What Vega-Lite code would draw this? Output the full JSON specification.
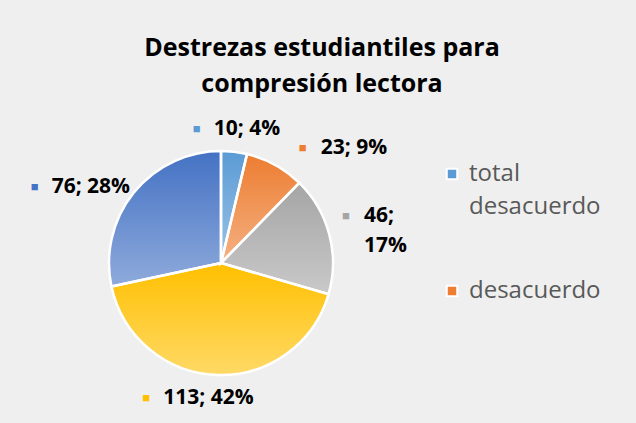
{
  "$schema": "https://vega.github.io/schema/vega-lite/v6.json",
  "width": 422,
  "height": 320,
  "autosize": {"type": "none"},
  "padding": {"left": 10, "top": 103, "right": 204, "bottom": 0},
  "background": "#efefef",
  "config": {
    "view": {"stroke": null},
    "style": {"guide-label": {"lineHeight": 33}}
  },
  "title": {
    "text": ["Destrezas estudiantiles para", "compresión lectora"],
    "font": "Open Sans",
    "fontSize": 25,
    "fontWeight": "bold",
    "color": "#000000",
    "anchor": "middle",
    "dx": 101,
    "offset": 6,
    "lineHeight": 36
  },
  "data": {
    "values": [
      {"categoria": "total desacuerdo", "valor": 10, "orden": 1, "etiqueta": "10; 4%"},
      {"categoria": "desacuerdo", "valor": 23, "orden": 2, "etiqueta": "23; 9%"},
      {"categoria": "neutral", "valor": 46, "orden": 3, "etiqueta": "46;\n17%"},
      {"categoria": "de acuerdo", "valor": 113, "orden": 4, "etiqueta": "113; 42%"},
      {"categoria": "total de acuerdo", "valor": 76, "orden": 5, "etiqueta": "76; 28%"}
    ]
  },
  "encoding": {
    "theta": {"field": "valor", "type": "quantitative", "stack": true},
    "order": {"field": "orden", "type": "quantitative", "sort": "ascending"}
  },
  "layer": [
    {
      "mark": {"type": "arc", "outerRadius": 112},
      "encoding": {
        "color": {
          "field": "categoria",
          "type": "nominal",
          "scale": {
            "domain": ["total desacuerdo", "desacuerdo", "neutral", "de acuerdo", "total de acuerdo"],
            "range": ["#5B9BD5", "#ED7D31", "#A5A5A5", "#FFC000", "#4472C4"]
          },
          "legend": {
            "orient": "none",
            "legendX": 430,
            "legendY": 59,
            "values": ["total desacuerdo", "desacuerdo"],
            "title": null,
            "labelFont": "Open Sans",
            "labelFontSize": 24,
            "labelColor": "#595959",
            "labelExpr": "datum.label == 'total desacuerdo' ? ['total', 'desacuerdo'] : datum.label",
            "labelOffset": 5,
            "rowPadding": 60,
            "symbolType": "square",
            "symbolSize": 110,
            "symbolStrokeColor": "white",
            "symbolStrokeWidth": 2
          }
        }
      }
    },
    {
      "mark": {
        "type": "arc",
        "outerRadius": 112,
        "stroke": "white",
        "strokeWidth": 2.5,
        "fill": {"gradient": "linear", "x1": 0, "y1": 0, "x2": 0, "y2": 1, "stops": [{"offset": 0, "color": "rgba(255,255,255,0)"}, {"offset": 1, "color": "rgba(255,255,255,0.4)"}]}
      },
      "encoding": {}
    },
    {
      "mark": {
        "type": "text",
        "align": "left",
        "baseline": "middle",
        "fontSize": 13,
        "lineHeight": 30,
        "text": {"expr": "indexof(datum.etiqueta, '\\n') >= 0 ? ['■', ' '] : '■'"},
        "radius": {"expr": "165*135/sqrt(pow(135*sin(scale('theta', 0.5*datum.valor_start + 0.5*datum.valor_end)),2) + pow(165*cos(scale('theta', 0.5*datum.valor_start + 0.5*datum.valor_end)),2))"},
        "dx": {"expr": "abs(sin(scale('theta', 0.5*datum.valor_start + 0.5*datum.valor_end))) < 0.35 ? (cos(scale('theta', 0.5*datum.valor_start + 0.5*datum.valor_end)) > 0 ? -44 : -74) : (sin(scale('theta', 0.5*datum.valor_start + 0.5*datum.valor_end)) > 0 ? 74*cos(scale('theta', 0.5*datum.valor_start + 0.5*datum.valor_end)) - 55 : -73)"},
        "dy": {"expr": "abs(sin(scale('theta', 0.5*datum.valor_start + 0.5*datum.valor_end))) < 0.35 ? 0 : (sin(scale('theta', 0.5*datum.valor_start + 0.5*datum.valor_end)) > 0 ? 22*cos(scale('theta', 0.5*datum.valor_start + 0.5*datum.valor_end)) - 11 : 19)"}
      },
      "encoding": {
        "color": {"field": "categoria", "type": "nominal", "legend": null}
      }
    },
    {
      "mark": {
        "type": "text",
        "align": "left",
        "baseline": "middle",
        "font": "Open Sans",
        "fontSize": 21,
        "fontWeight": "bold",
        "color": "#000000",
        "lineBreak": "\n",
        "lineHeight": 30,
        "radius": {"expr": "165*135/sqrt(pow(135*sin(scale('theta', 0.5*datum.valor_start + 0.5*datum.valor_end)),2) + pow(165*cos(scale('theta', 0.5*datum.valor_start + 0.5*datum.valor_end)),2))"},
        "dx": {"expr": "abs(sin(scale('theta', 0.5*datum.valor_start + 0.5*datum.valor_end))) < 0.35 ? (cos(scale('theta', 0.5*datum.valor_start + 0.5*datum.valor_end)) > 0 ? -23 : -53) : (sin(scale('theta', 0.5*datum.valor_start + 0.5*datum.valor_end)) > 0 ? 74*cos(scale('theta', 0.5*datum.valor_start + 0.5*datum.valor_end)) - 33 : -52)"},
        "dy": {"expr": "abs(sin(scale('theta', 0.5*datum.valor_start + 0.5*datum.valor_end))) < 0.35 ? 0 : (sin(scale('theta', 0.5*datum.valor_start + 0.5*datum.valor_end)) > 0 ? 22*cos(scale('theta', 0.5*datum.valor_start + 0.5*datum.valor_end)) - 11 : 19)"}
      },
      "encoding": {
        "text": {"field": "etiqueta", "type": "nominal"}
      }
    }
  ]
}
